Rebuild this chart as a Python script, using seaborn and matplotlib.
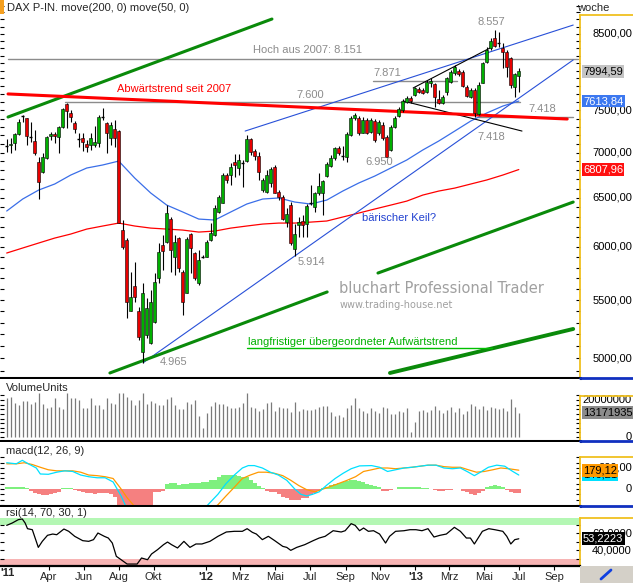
import numpy as np
import pandas as pd
import matplotlib
matplotlib.use("Agg")
import matplotlib.pyplot as plt
import seaborn as sns
from matplotlib.lines import Line2D
from matplotlib.patches import Rectangle
from matplotlib.ticker import FixedLocator, NullFormatter, NullLocator

sns.set_theme(style="white")
plt.rcParams["font.family"] = ["Liberation Sans", "DejaVu Sans"]
plt.rcParams["font.size"] = 8

# ---------------- data (weekly DAX, first candle = week of 17 Jan 2011) ----------------
START_WEEK = "2011-01-17"

opens = [7075, 7087, 7110, 7215, 7431, 7406, 7179, 7133, 6893, 6781,
         6938, 7191, 7215, 7179, 7298, 7577, 7467, 7346, 7156, 7168,
         7098, 7087, 7087, 7110, 7418, 7346, 7168, 7274, 7250, 6167,
         6068, 5403, 5629, 5403, 5053, 5196, 5128, 5307, 5703, 6018,
         6048, 6279, 5901, 6088, 5758, 5565, 6127, 5940, 5656, 5901,
         5901, 6068, 6117, 6351, 6445, 6748, 6748, 6893, 6825, 6882,
         6904, 7156, 7018, 6961, 6584, 6563, 6660, 6836, 6563, 6509,
         6249, 6424, 5979, 6218, 6259, 6229, 6445, 6403, 6552, 6552,
         6737, 6847, 6938, 7052, 6961, 6949, 7203, 7406, 7406, 7226,
         7382, 7238, 7370, 7226, 7322, 7179, 7029, 7298, 7431, 7503,
         7602, 7653, 7691, 7766, 7753, 7728, 7843, 7830, 7640, 7590,
         7728, 7855, 7971, 7997, 7984, 7792, 7665, 7753, 7455, 7843,
         8116, 8303, 8441, 8372, 8303, 8249, 8169, 7792, 7932]
highs = [7156, 7168, 7226, 7394, 7443, 7406, 7358, 7262, 6949, 6995,
         7191, 7238, 7238, 7310, 7527, 7590, 7503, 7370, 7226, 7226,
         7144, 7226, 7310, 7443, 7527, 7358, 7358, 7382, 7262, 6269,
         6088, 5758, 5853, 5438, 5656, 5519, 5592, 5749, 6038, 6117,
         6424, 6300, 6117, 6098, 5777, 6098, 6137, 5950, 5969, 5920,
         6068, 6239, 6424, 6530, 6770, 6770, 6882, 6984, 6984, 6915,
         7203, 7168, 7041, 7006, 6715, 6803, 6836, 6859, 6584, 6530,
         6393, 6456, 6229, 6300, 6320, 6435, 6638, 6563, 6770, 6693,
         6893, 6972, 7064, 7075, 7075, 7238, 7431, 7467, 7431, 7418,
         7406, 7406, 7394, 7382, 7358, 7203, 7322, 7431, 7540, 7640,
         7678, 7678, 7792, 7792, 7779, 7881, 7907, 7843, 7753, 7691,
         7920, 8010, 8077, 8024, 8010, 7817, 7779, 7779, 7855, 8116,
         8317, 8441, 8557, 8523, 8372, 8276, 8183, 7971, 8037]
lows = [7006, 6995, 7029, 7203, 7358, 7087, 7121, 6972, 6488, 6770,
        6926, 7144, 7110, 6995, 7286, 7286, 7358, 7226, 7064, 7018,
        7006, 7029, 7064, 7064, 7382, 6995, 7087, 7064, 6239, 5979,
        5342, 5403, 5483, 5153, 4965, 5170, 5120, 5298, 5656, 5777,
        6038, 5758, 5730, 5758, 5368, 5565, 5749, 5684, 5638, 5891,
        5901, 6058, 6107, 6341, 6445, 6660, 6638, 6726, 6748, 6617,
        6893, 6972, 6915, 6693, 6563, 6552, 6617, 6552, 6477, 6269,
        6198, 6018, 5914, 6098, 6098, 6098, 6424, 6351, 6530, 6320,
        6726, 6836, 6915, 6972, 6915, 6893, 7191, 7382, 7203, 7226,
        7215, 7226, 7121, 7203, 7144, 6950, 7018, 7286, 7418, 7479,
        7590, 7590, 7678, 7715, 7703, 7715, 7792, 7540, 7577, 7577,
        7691, 7843, 7945, 7932, 7792, 7665, 7653, 7418, 7443, 7843,
        8103, 8276, 8317, 8317, 8037, 7920, 7779, 7665, 7728]
closes = [7075, 7098, 7215, 7358, 7431, 7191, 7179, 6995, 6671, 6949,
          7179, 7215, 7191, 7298, 7515, 7491, 7418, 7274, 7156, 7121,
          7064, 7168, 7121, 7418, 7418, 7226, 7322, 7168, 6239, 5999,
          5483, 5528, 5528, 5179, 5565, 5430, 5483, 5666, 5950, 5959,
          6341, 5969, 6048, 5796, 5483, 6078, 5989, 5703, 5872, 5901,
          6048, 6137, 6393, 6509, 6748, 6693, 6836, 6859, 6915, 6882,
          7156, 7006, 6961, 6781, 6693, 6748, 6814, 6552, 6509, 6279,
          6331, 6038, 6127, 6249, 6218, 6414, 6445, 6552, 6627, 6682,
          6870, 6938, 7052, 6995, 6961, 7215, 7406, 7443, 7226, 7382,
          7226, 7382, 7144, 7358, 7168, 6950, 7298, 7406, 7515, 7615,
          7653, 7615, 7779, 7728, 7715, 7855, 7868, 7665, 7590, 7665,
          7907, 7984, 8050, 7958, 7805, 7678, 7753, 7467, 7817, 8103,
          8276, 8399, 8331, 8372, 8249, 8050, 7817, 7958, 7994.59]

volume_mio = [21.2, 21.8, 18.6, 17.5, 19.6, 19.6, 18.1, 19.0, 24.0, 18.1,
              15.9, 16.2, 21.2, 16.4, 15.3, 24.0, 20.9, 21.2, 19.9, 15.7,
              15.7, 20.9, 17.5, 17.5, 15.3, 21.2, 18.6, 18.1, 24.0, 24.0,
              21.8, 19.9, 17.5, 19.9, 24.0, 18.1, 19.6, 18.6, 17.5, 17.2,
              20.3, 21.4, 17.2, 15.3, 15.0, 19.0, 18.1, 20.1, 11.3, 4.6,
              12.9, 16.8, 19.0, 18.1, 18.1, 16.8, 15.9, 15.9, 16.2, 18.5,
              24.0, 16.2, 15.9, 14.0, 15.3, 18.5, 19.0, 14.0, 16.2, 15.9,
              15.9, 13.5, 19.0, 14.0, 15.0, 14.8, 14.4, 15.0, 16.2, 16.8,
              16.8, 13.5, 11.3, 12.0, 10.7, 15.7, 17.2, 21.2, 15.9, 14.0,
              12.9, 15.9, 14.0, 13.1, 16.2, 15.9, 12.6, 12.6, 13.8, 13.5,
              15.9, 2.8, 7.9, 14.0, 14.4, 13.5, 14.8, 16.8, 14.4, 13.0,
              14.5, 16.0, 13.5, 15.5, 12.5, 14.0, 18.0, 16.5, 15.0, 17.0,
              14.5, 16.0, 15.5, 15.0, 15.5, 14.0, 20.5, 16.0, 13.17]

# moving averages read every 4th week
ma_week = list(range(0, 129, 4))
ma50 = [6362, 6488, 6584, 6649, 6747, 6825, 6859, 6903, 6714, 6552,
        6424, 6352, 6279, 6269, 6352, 6435, 6488, 6499, 6456, 6435,
        6477, 6573, 6660, 6736, 6825, 6915, 7029, 7133, 7250, 7370,
        7467, 7552, 7613.84]
ma200 = [5940, 5989, 6038, 6087, 6127, 6177, 6208, 6238, 6208, 6187,
         6177, 6167, 6147, 6157, 6187, 6208, 6228, 6238, 6238, 6248,
         6259, 6300, 6341, 6383, 6424, 6466, 6530, 6573, 6605, 6649,
         6693, 6747, 6807.96]

macd_week = [0, 2.4, 3.9, 5.4, 7.4, 8.4, 10.4, 12.5, 14.5, 16.5,
             18.5, 20.5, 22.6, 24.6, 26.6, 27.6, 28.6, 29.6, 31, 33,
             36, 40, 44, 48, 50.3, 52.8, 54.8, 56.9, 58.9, 60.4,
             61.9, 63.9, 65.9, 67.9, 70, 72, 73.5, 75, 76.5, 78.1,
             80.1, 82.1, 84.1, 86.1, 88.2, 91.2, 93.2, 95.2, 97.2, 99.3,
             101.3, 103.3, 105.3, 107.3, 109.3, 111.4, 113.4, 115.4, 116.9, 118.4,
             120.4, 122.5, 124.5, 126.5, 128]
macd_line = [250, 240, 273, 240, 200, 143, 140, 160, 173, 167,
             133, 117, 107, 107, 67, 0, -67, -150, -260, -400,
             -480, -420, -330, -250, -150, -50, 50, 133, 200, 223,
             223, 200, 160, 133, 83, 0, -50, -67, -50, -27,
             40, 100, 150, 193, 220, 223, 207, 167, 183, 200,
             207, 217, 227, 227, 200, 193, 200, 160, 127, 160,
             207, 227, 217, 167, 133]
signal_week = [0, 2.4, 4.4, 6.4, 8.4, 10.4, 12.5, 14.5, 16.5, 18.5,
               20.5, 22.6, 24.6, 26.6, 28.6, 30.1, 31.6, 34, 38, 42,
               46, 50, 52.8, 54.8, 56.9, 58.9, 60.9, 62.9, 64.9, 66.9,
               69, 71, 73, 75, 77.1, 79.1, 82.1, 85.1, 87.2, 89.2,
               91.2, 93.2, 95.2, 97.2, 99.3, 101.3, 103.3, 105.3, 107.3, 109.3,
               111.4, 113.4, 115.4, 117.4, 119.4, 121.5, 123.5, 125.5, 128]
signal_line = [240, 240, 250, 233, 207, 183, 173, 173, 173, 160,
               133, 127, 117, 100, 0, -83, -150, -280, -380, -400,
               -330, -230, -150, -67, 17, 100, 133, 160, 160, 150,
               127, 83, 33, -7, -27, 0, 40, 83, 117, 167,
               183, 200, 200, 193, 200, 207, 217, 227, 227, 213,
               207, 207, 183, 160, 167, 183, 200, 193, 179.12]
macd_hist = [15, 15, 15, 15, 15, 12,
             -15, -35, -50, -55, -60, -50, -40, -25,
             10, 10, 8,
             -10, -20, -30, -35, -40, -45, -40, -35, -40, -50,
             -80,
             -220, -260, -300, -300, -280, -250, -230, -210, -190,
             -30, -25, -20,
             50, 60, 60, 40, 45, 50, 60, 60, 60, 67, 67, 83, 83, 110, 133,
             133, 133, 133, 125, 117, 110, 83, 60, 30, 10,
             -15, -33, -33, -50, -73, -85, -100, -100, -100, -90, -83, -60, -40, -15,
             10, 20, 35, 45, 55, 67, 75, 83, 83, 75, 67, 50, 40, 30, 20,
             -17, -17, -5, 3,
             15, 17, 17, 17, 17, 15, 12, 8,
             3,
             -10, -17, -17, -12, -5,
             3, 2,
             -17, -33, -50, -60, -40, -20,
             15, 33, 40, 33, 17,
             -10, -33, -40, -40]

rsi_week = [0, 1.4, 2.9, 3.9, 4.6, 5.2, 6.4, 7.9, 8.9, 10.2,
            11.5, 12.5, 14.3, 15.5, 17.0, 19.0, 20.5, 21.7, 22.8, 24.4,
            25.4, 26.4, 27.4, 28.6, 30.1, 32.6, 33.7, 35.2, 36.2, 37.7,
            39.2, 40.2, 41.2, 42.7, 44.3, 45.8, 47.3, 48.8, 50.8, 52.8,
            54.9, 56.9, 58.9, 60.1, 61.4, 62.4, 63.9, 65.4, 67.0, 69.0,
            70.0, 71.0, 72.5, 74.5, 76.6, 78.1, 79.6, 81.6, 83.6, 84.6,
            86.1, 87.1, 88.2, 89.2, 90.4, 91.7, 93.2, 94.7, 95.7, 97.2,
            99.3, 100.8, 102.3, 103.8, 105.3, 106.8, 108.3, 109.9, 111.9, 113.4,
            114.9, 115.9, 116.9, 118.9, 120.5, 122.0, 124.0, 125.0, 126.0, 127.0,
            128.0]
rsi_vals = [69.0, 71.8, 75.7, 76.5, 71.8, 65.1, 63.9, 43.1, 50.2, 57.3,
            58.8, 58.0, 64.7, 62.0, 56.1, 51.0, 50.2, 52.2, 60.0, 56.1,
            54.1, 48.2, 32.6, 28.6, 23.5, 23.5, 30.6, 28.6, 35.3, 40.4,
            46.3, 49.4, 46.3, 42.4, 50.2, 43.1, 47.1, 47.1, 50.2, 56.1,
            61.2, 62.0, 62.0, 65.1, 60.8, 58.8, 52.2, 56.1, 51.0, 44.3,
            43.1, 39.6, 43.1, 46.3, 51.0, 54.1, 56.1, 62.7, 61.2, 62.7,
            71.0, 69.0, 62.7, 65.9, 62.0, 62.7, 58.8, 48.2, 56.1, 62.0,
            62.7, 63.9, 63.9, 62.7, 65.1, 55.3, 57.3, 58.8, 66.7, 62.0,
            54.1, 54.1, 47.1, 62.0, 65.1, 63.9, 62.0, 56.1, 47.1, 52.2,
            53.2223]

# drawn trend lines (week, price)
green_top_w, green_top_p = [0.33, 66.3], [7418, 8706]
red_trend_w, red_trend_p = [0.33, 140.1], [7703, 7394]
green_low1_w, green_low1_p = [25.8, 80.1], [4883, 5574]
green_low2_w, green_low2_p = [92.8, 141.6], [5749, 6456]
green_low3_w, green_low3_p = [95.8, 141.6], [4883, 5247]
wedge_top_w, wedge_top_p = [59.6, 141.6], [7250, 8621]
wedge_bot_w, wedge_bot_p = [34.1, 141.6], [4965, 8143]
black_top_w, black_top_p = [101.6, 120.8], [7779, 8303]
black_bot_w, black_bot_p = [99.1, 128.8], [7615, 7250]
level_prices = [8151, 7600, 7871, 7418]
level_from = [0.3, 14.6, 91.6, 117.8]
level_to = [142.8, 128.3, 112.6, 141.6]

month_labels = ["'11", "Apr", "Jun", "Aug", "Okt", "'12", "Mrz", "Mai", "Jul",
                "Sep", "Nov", "'13", "Mrz", "Mai", "Jul", "Sep"]
month_dates = ["2011-01-01", "2011-04-01", "2011-06-01", "2011-08-01", "2011-10-01",
               "2012-01-01", "2012-03-01", "2012-05-01", "2012-07-01", "2012-09-01",
               "2012-11-01", "2013-01-01", "2013-03-01", "2013-05-01", "2013-07-01",
               "2013-09-01"]

# ---------------- layout helpers ----------------
W, H = 633, 583
PLOT_RIGHT = 580
XLIM = (-1.675, 143.3)
GREEN_C = "#00b000"
RED_C = "#e80000"
GRAY_TXT = "#8c8c8c"
GOLD = "#f0c020"
EDGE_BLUE = "#1030c0"

fig = plt.figure(figsize=(W / 100, H / 100), dpi=100)
fig.patch.set_facecolor("white")


def px_box(x0, y0, x1, y1):
    return [x0 / W, 1 - y1 / H, (x1 - x0) / W, (y1 - y0) / H]


def fig_line(x0, y0, x1, y1, **kw):
    fig.add_artist(Line2D([x0 / W, x1 / W], [1 - y0 / H, 1 - y1 / H],
                          transform=fig.transFigure, **kw))


def de(v, n=2):
    return f"{v:.{n}f}".replace(".", ",")


def panel(box, ylim, ticks, spine_top, log=False, bottom_lw=2.2):
    ax = fig.add_axes(px_box(*box))
    if log:
        ax.set_yscale("log")
    ax.set_xlim(*XLIM)
    ax.set_ylim(*ylim)
    ax.set_facecolor("white")
    ax.spines["top"].set_visible(False)
    ax.spines["left"].set_visible(False)
    ax.spines["bottom"].set_color("black")
    ax.spines["bottom"].set_linewidth(bottom_lw)
    ax.spines["right"].set_color(GOLD)
    ax.spines["right"].set_linewidth(1.3)
    ax.spines["right"].set_bounds(ylim[0], spine_top)
    ax.yaxis.set_major_locator(FixedLocator(ticks))
    ax.yaxis.set_minor_locator(NullLocator())
    ax.yaxis.set_major_formatter(NullFormatter())
    ax.yaxis.set_minor_formatter(NullFormatter())
    ax.tick_params(axis="y", which="both", direction="in", left=True, right=True,
                   length=3, width=0.8, color="black", labelleft=False, labelright=False)
    ax.xaxis.set_major_locator(NullLocator())
    ax.xaxis.set_minor_locator(NullLocator())
    ax.grid(False)
    return ax


def right_labels(ax, values, texts):
    for v, t in zip(values, texts):
        ax.text(1 + 52 / PLOT_RIGHT, v, t, transform=ax.get_yaxis_transform(),
                ha="right", va="center", fontsize=8, color="black", clip_on=False, zorder=15)


def value_box(ax, v, text, fc, tc):
    ax.text(1 + 3 / PLOT_RIGHT, v, text, transform=ax.get_yaxis_transform(),
            ha="left", va="center", fontsize=8, color=tc, clip_on=False, zorder=20,
            bbox=dict(boxstyle="square,pad=0.12", fc=fc, ec="none"))


# ---------------- price panel ----------------
weeks = np.arange(len(closes))
o = np.array(opens, float)
c = np.array(closes, float)
hi = np.array(highs, float)
lo = np.array(lows, float)

ax = panel((0, 0, PLOT_RIGHT, 378), (4843, 8981), list(range(4900, 9000, 100)), 8763, log=True)

for lvl, a, b in zip(level_prices, level_from, level_to):
    ax.plot([a, b], [lvl, lvl], color="#8c8c8c", lw=1.0, zorder=2)

sns.lineplot(x=ma_week, y=ma200, ax=ax, color="#ff0000", lw=0.9, zorder=3)
sns.lineplot(x=ma_week, y=ma50, ax=ax, color="#3a6ee8", lw=0.9, zorder=3)

ax.plot(wedge_top_w, wedge_top_p, color="#2850d8", lw=0.8, zorder=3)
ax.plot(wedge_bot_w, wedge_bot_p, color="#2850d8", lw=0.8, zorder=3)
ax.plot(black_top_w, black_top_p, color="black", lw=0.8, zorder=3)
ax.plot(black_bot_w, black_bot_p, color="black", lw=0.8, zorder=3)
ax.plot(green_top_w, green_top_p, color="#0a8a0a", lw=2.2, zorder=4)
ax.plot(green_low1_w, green_low1_p, color="#0a8a0a", lw=2.2, zorder=4)
ax.plot(green_low2_w, green_low2_p, color="#0a8a0a", lw=2.2, zorder=4)
ax.plot(green_low3_w, green_low3_p, color="#0a8a0a", lw=2.8, zorder=4)
ax.plot(red_trend_w, red_trend_p, color="#ff0000", lw=2.2, zorder=4)
ax.plot([60.0, 121.3], [5086, 5086], color="#00c000", lw=1.0, zorder=4)

# candles
ax.vlines(weeks, lo, hi, color="black", lw=0.8, zorder=5)
body_lo = np.minimum(o, c)
body_hi = np.maximum(o, c)
moving = body_hi > body_lo
cols = np.where(c > o, GREEN_C, RED_C)
ax.bar(weeks[moving], (body_hi - body_lo)[moving], bottom=body_lo[moving], width=0.78,
       color=cols[moving], edgecolor="black", linewidth=0.4, zorder=6)
ax.hlines(c[~moving], weeks[~moving] - 0.4, weeks[~moving] + 0.4, color="black", lw=1.0, zorder=6)

# annotations
gray_labels = [("Hoch aus 2007: 8.151", 61.6, 8276), ("7.600", 72.3, 7690),
               ("7.871", 91.6, 7971), ("7.418", 130.3, 7516), ("8.557", 117.8, 8664),
               ("7.418", 117.6, 7180), ("6.950", 89.6, 6892), ("5.914", 72.6, 5853),
               ("4.965", 38.3, 4971)]
for t, xw, yp in gray_labels:
    ax.text(xw, yp, t, color=GRAY_TXT, fontsize=8, ha="left", va="center", zorder=7)
ax.text(27.6, 7765, "Abwärtstrend seit 2007", color="#ff0000", fontsize=8, va="center", zorder=7)
ax.text(88.8, 6290, "bärischer Keil?", color="#2040d0", fontsize=8, va="center", zorder=7)
ax.text(60.3, 5136, "langfristiger übergeordneter Aufwärtstrend", color="#00b000",
        fontsize=8, va="center", zorder=7)
ax.text(83.1, 5610, "bluchart Professional Trader", color="#a0a0a0", fontsize=10.5,
        family="DejaVu Sans", va="center", zorder=1)
ax.text(83.1, 5456, "www.trading-house.net", color="#a0a0a0", fontsize=7,
        family="DejaVu Sans", va="center", zorder=1)

# 8000,00 sits fully under the last-price box in the original, so it is not drawn
price_ticks = [5000, 5500, 6000, 6500, 7000, 7500, 8500]
right_labels(ax, price_ticks, [de(v) for v in price_ticks])
value_box(ax, 7994.59, "7994,59", "#c4c4c4", "black")
value_box(ax, 7613.84, "7613,84", "#3c78f0", "white")
value_box(ax, 6807.96, "6807,96", "#ff1010", "white")

# ---------------- volume panel ----------------
axv = panel((0, 379, PLOT_RIGHT, 441), (-2.16, 31.35), list(np.arange(0, 23, 2.5)), 22.2)
axv.vlines(weeks, 0, volume_mio, color="#7a7a7a", lw=0.9)
axv.text(6 / PLOT_RIGHT, 0.855, "VolumeUnits", transform=axv.transAxes, fontsize=8, va="center")
right_labels(axv, [0, 20], ["0", "20000000"])
value_box(axv, 13.17, "13171935", "#8c8c8c", "black")

# ---------------- macd panel ----------------
axm = panel((0, 442, PLOT_RIGHT, 506), (-161.9, 447.6), list(range(-150, 301, 50)), 305)
hist = np.array(macd_hist, float)
axm.bar(weeks, hist, width=1.0, color=np.where(hist > 0, "#7ef07e", "#f58080"), linewidth=0)
sns.lineplot(x=signal_week, y=signal_line, ax=axm, color="#ff9900", lw=0.9)
sns.lineplot(x=macd_week, y=macd_line, ax=axm, color="#00e0ff", lw=0.9)
axm.text(6 / PLOT_RIGHT, 0.86, "macd(12, 26, 9)", transform=axm.transAxes, fontsize=8, va="center")
right_labels(axm, [0, 200], ["0", "200,00"])
value_box(axm, 140, "146,21", "#00e0ff", "black")
value_box(axm, 179.12, "179,12", "#ff9900", "black")

# ---------------- rsi panel ----------------
axr = panel((0, 507, PLOT_RIGHT, 566), (21.2, 90.6), list(range(30, 80, 10)), 77.6, bottom_lw=1.6)
axr.axhspan(70, 77.6, color="#b4f7b4", lw=0, zorder=0)
axr.axhspan(21.2, 30, color="#f7b4b4", lw=0, zorder=0)
sns.lineplot(x=rsi_week, y=rsi_vals, ax=axr, color="black", lw=0.9)
axr.text(6 / PLOT_RIGHT, 0.9, "rsi(14, 70, 30, 1)", transform=axr.transAxes, fontsize=8, va="center")
right_labels(axr, [40, 60], ["40,0000", "60,0000"])
value_box(axr, 53.2223, "53,2223", "black", "white")

month_pos = (pd.to_datetime(month_dates) - pd.Timestamp(START_WEEK)).days / 7.0
inside = [(p, l) for p, l in zip(month_pos, month_labels) if XLIM[0] <= p <= XLIM[1]]
axr.set_xticks([p for p, _ in inside])
axr.set_xticklabels([l for _, l in inside])
axr.tick_params(axis="x", bottom=True, direction="out", length=3, width=0.8,
                labelsize=8, pad=1.5, color="black")
for lbl in axr.get_xticklabels():
    if lbl.get_text().startswith("'"):
        lbl.set_fontweight("bold")
axr.text(0, -0.03, month_labels[0], transform=axr.transAxes, ha="left", va="top",
         fontsize=8, fontweight="bold", clip_on=False)

# ---------------- frame decorations ----------------
fig.add_artist(Rectangle((0, 1 - 14 / H), 4 / W, 14 / H, transform=fig.transFigure,
                         color="#f5a020", lw=0))
fig.text(7 / W, 1 - 8 / H, "DAX P-IN. move(200, 0) move(50, 0)", fontsize=8, va="center")
fig.text(577 / W, 1 - 8 / H, "woche", fontsize=8, va="center")
for yy in (15, 396, 457, 518):
    fig_line(PLOT_RIGHT, yy, W, yy, color=GOLD, lw=1.3)
for yy in (378, 440.5, 505.5):
    fig_line(PLOT_RIGHT, yy, W, yy, color=EDGE_BLUE, lw=2.0)
fig.add_artist(Rectangle((PLOT_RIGHT / W, 0), (W - PLOT_RIGHT) / W, 17 / H,
                         transform=fig.transFigure, color="#d4d0c8", lw=0))
fig_line(601, 579, 611, 570, color="#1040e0", lw=2.0)

fig.savefig("out.png", dpi=100)
